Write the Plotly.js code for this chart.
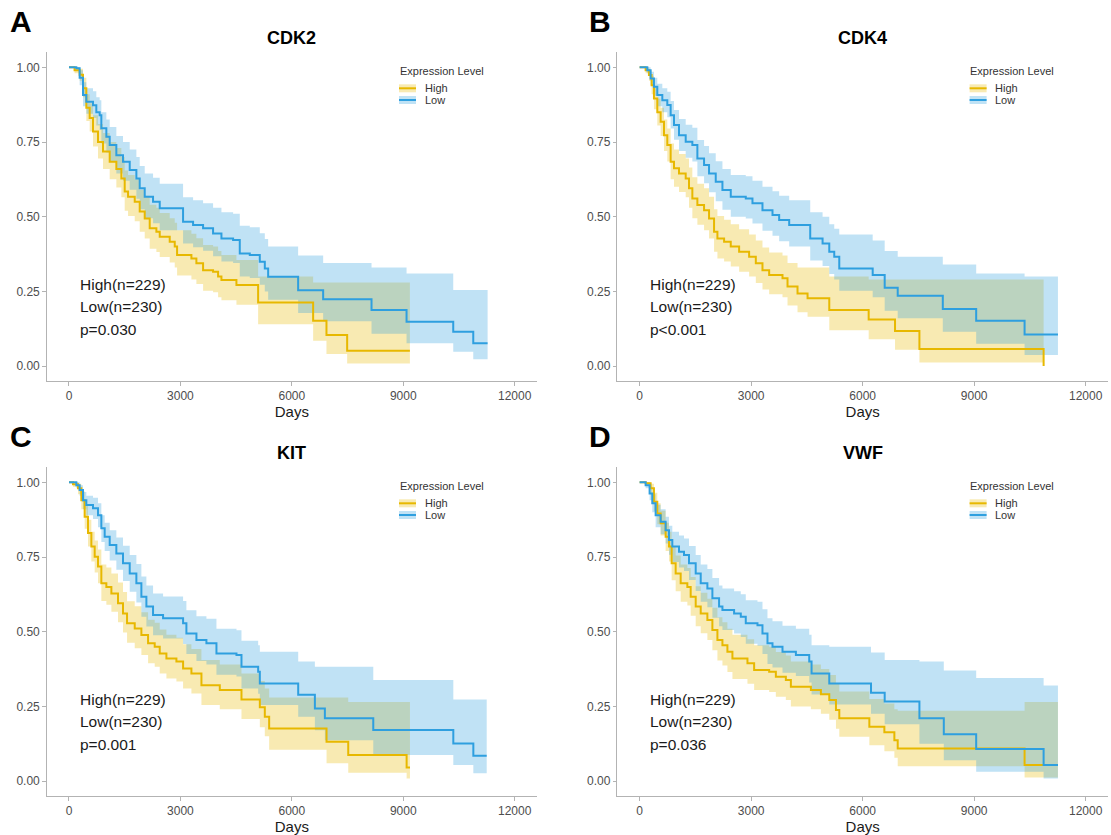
<!DOCTYPE html>
<html><head><meta charset="utf-8">
<script src="https://cdn.plot.ly/plotly-3.0.1.min.js"></script>
<style>html,body{margin:0;padding:0;background:#fff}#chart{width:1111px;height:835px}</style>
</head><body><div id="chart"></div>
<script>
// ---------- data ----------
const genes = ["CDK2", "CDK4", "KIT", "VWF"];
const panelLetters = ["A", "B", "C", "D"];
const groupNames = ["High", "Low"];
const groupN = [229, 230];
const pLabels = ["p=0.030", "p<0.001", "p=0.001", "p=0.036"];
const xTickVals = [0, 3000, 6000, 9000, 12000];
const yTickVals = [0, 0.25, 0.5, 0.75, 1];
const legendTitle = "Expression Level";
const xTitle = "Days";

// Panel A: CDK2
const days_A_high = [0,150,287,377,467,557,647,781,916,1096,1275,1410,1500,1590,1770,1904,2039,2173,2353,2443,2712,2847,2910,3296,3430,3610,3879,4014,4104,4508,5092,6573,6932,7489,9178];
const surv_A_high = [1.0,0.99,0.975,0.93,0.865,0.83,0.785,0.75,0.718,0.684,0.66,0.628,0.584,0.567,0.55,0.517,0.494,0.461,0.45,0.433,0.416,0.40,0.372,0.36,0.344,0.321,0.316,0.30,0.288,0.271,0.213,0.152,0.104,0.051,0.051];
const lower_A_high = [1.0,0.98,0.955,0.90,0.82,0.785,0.735,0.695,0.66,0.625,0.598,0.565,0.52,0.502,0.485,0.45,0.427,0.393,0.382,0.365,0.347,0.33,0.303,0.29,0.275,0.252,0.247,0.23,0.22,0.205,0.14,0.085,0.04,0.009,0.009];
const upper_A_high = [1.0,1.0,0.995,0.965,0.91,0.88,0.84,0.81,0.78,0.75,0.73,0.70,0.655,0.64,0.625,0.59,0.57,0.54,0.53,0.512,0.495,0.48,0.455,0.443,0.428,0.405,0.40,0.385,0.372,0.355,0.30,0.28,0.28,0.28,0.28];
const days_A_low = [0,198,287,377,467,647,736,826,871,1006,1096,1275,1455,1635,1814,1904,2039,2263,2443,3071,3341,3610,3879,4104,4418,4598,4867,5137,5272,5362,6169,6843,8145,9088,10345,10884,11270];
const surv_A_low = [1.0,0.997,0.965,0.907,0.885,0.873,0.85,0.84,0.796,0.768,0.74,0.706,0.684,0.656,0.628,0.595,0.567,0.55,0.528,0.483,0.472,0.461,0.444,0.427,0.422,0.377,0.372,0.349,0.327,0.299,0.254,0.224,0.188,0.148,0.115,0.076,0.076];
const lower_A_low = [1.0,0.99,0.94,0.87,0.845,0.83,0.805,0.79,0.745,0.715,0.685,0.645,0.62,0.59,0.56,0.525,0.495,0.478,0.455,0.41,0.398,0.386,0.368,0.35,0.345,0.30,0.295,0.272,0.25,0.222,0.178,0.15,0.108,0.076,0.048,0.023,0.023];
const upper_A_low = [1.0,1.0,0.99,0.95,0.93,0.92,0.90,0.89,0.85,0.825,0.80,0.77,0.75,0.725,0.70,0.67,0.645,0.63,0.61,0.565,0.555,0.545,0.53,0.515,0.51,0.47,0.465,0.445,0.425,0.40,0.37,0.345,0.33,0.31,0.255,0.255,0.255];

// Panel B: CDK4
const days_B_high = [0,162,251,323,386,476,566,656,745,835,925,1060,1240,1329,1419,1554,1734,1868,2003,2093,2273,2452,2677,2946,3126,3305,3485,3844,3979,4248,4518,5102,6162,6871,7527,10868];
const surv_B_high = [1,0.99,0.974,0.94,0.896,0.85,0.818,0.773,0.74,0.684,0.662,0.645,0.628,0.595,0.561,0.539,0.522,0.494,0.45,0.427,0.416,0.40,0.383,0.366,0.344,0.321,0.305,0.294,0.266,0.243,0.227,0.1875,0.156,0.117,0.057,0.0];
const lower_B_high = [1,0.98,0.955,0.91,0.86,0.805,0.77,0.72,0.685,0.625,0.60,0.583,0.565,0.53,0.495,0.473,0.455,0.427,0.383,0.36,0.35,0.333,0.316,0.30,0.278,0.256,0.24,0.23,0.203,0.18,0.165,0.12,0.09,0.055,0.012,0.012];
const upper_B_high = [1,1.0,0.99,0.97,0.935,0.895,0.865,0.825,0.795,0.745,0.725,0.71,0.695,0.665,0.632,0.61,0.595,0.567,0.525,0.502,0.49,0.475,0.458,0.44,0.42,0.397,0.38,0.37,0.345,0.33,0.33,0.30,0.29,0.29,0.29,0.29];
const days_B_low = [0,207,296,386,476,611,745,835,925,1060,1240,1419,1554,1734,1868,2048,2228,2452,2856,3036,3305,3575,3754,4024,4590,4922,5102,5236,5371,6270,6593,6943,8156,9054,10356,11254];
const surv_B_low = [1,0.99,0.963,0.935,0.907,0.89,0.874,0.84,0.807,0.773,0.751,0.74,0.695,0.673,0.645,0.617,0.589,0.567,0.561,0.545,0.522,0.506,0.489,0.472,0.427,0.41,0.383,0.366,0.327,0.305,0.262,0.235,0.191,0.152,0.106,0.106];
const lower_B_low = [1,0.98,0.94,0.905,0.87,0.85,0.833,0.795,0.758,0.72,0.697,0.685,0.635,0.612,0.582,0.552,0.523,0.50,0.494,0.477,0.453,0.436,0.418,0.40,0.353,0.335,0.308,0.29,0.252,0.23,0.185,0.16,0.115,0.075,0.037,0.037];
const upper_B_low = [1,1.0,0.985,0.965,0.945,0.93,0.918,0.887,0.857,0.827,0.808,0.798,0.757,0.737,0.712,0.686,0.66,0.64,0.635,0.62,0.60,0.585,0.57,0.555,0.515,0.50,0.475,0.46,0.44,0.42,0.385,0.366,0.34,0.31,0.30,0.30];

// Panel C: KIT
const days_C_high = [0,108,243,332,422,512,602,692,781,871,1006,1141,1320,1455,1563,1770,1949,2129,2308,2443,2623,2892,3072,3296,3566,4060,4644,5138,5272,5389,6934,7518,9090,9180];
const surv_C_high = [1,0.994,0.98,0.94,0.885,0.83,0.785,0.751,0.718,0.662,0.65,0.628,0.595,0.561,0.528,0.511,0.489,0.461,0.45,0.427,0.41,0.40,0.377,0.36,0.321,0.305,0.273,0.247,0.215,0.176,0.132,0.087,0.045,0.045];
const lower_C_high = [1,0.985,0.96,0.91,0.845,0.785,0.735,0.698,0.662,0.603,0.59,0.567,0.532,0.497,0.463,0.445,0.422,0.394,0.383,0.36,0.343,0.333,0.31,0.293,0.255,0.24,0.208,0.18,0.15,0.105,0.06,0.028,0.009,0.009];
const upper_C_high = [1,1.0,0.995,0.97,0.925,0.875,0.835,0.805,0.775,0.725,0.715,0.695,0.665,0.633,0.602,0.585,0.565,0.54,0.53,0.507,0.49,0.48,0.458,0.442,0.405,0.39,0.36,0.335,0.31,0.28,0.28,0.265,0.265,0.265];
const days_C_low = [0,198,287,377,467,647,781,871,961,1096,1275,1455,1635,1814,1949,2084,2263,2533,3072,3161,3431,3700,3970,4509,4644,5093,5138,6171,6620,6889,8192,10347,10886,11246];
const surv_C_low = [1,0.99,0.974,0.94,0.924,0.913,0.89,0.846,0.818,0.79,0.762,0.729,0.695,0.662,0.617,0.584,0.556,0.545,0.528,0.494,0.472,0.461,0.427,0.422,0.383,0.366,0.327,0.289,0.243,0.21,0.171,0.126,0.085,0.085];
const lower_C_low = [1,0.98,0.955,0.91,0.89,0.877,0.85,0.80,0.77,0.738,0.707,0.67,0.634,0.598,0.55,0.517,0.488,0.477,0.459,0.425,0.402,0.39,0.356,0.35,0.31,0.292,0.255,0.215,0.17,0.137,0.087,0.054,0.026,0.026];
const upper_C_low = [1,1.0,0.99,0.968,0.955,0.948,0.93,0.89,0.865,0.84,0.815,0.788,0.757,0.727,0.685,0.655,0.628,0.618,0.603,0.572,0.552,0.543,0.51,0.505,0.47,0.455,0.433,0.40,0.383,0.383,0.338,0.273,0.273,0.273];

// Panel D: VWF
const days_D_high = [0,162,296,386,476,566,700,790,862,970,1105,1284,1374,1509,1644,1823,1958,2093,2228,2362,2497,2901,3081,3485,3665,3934,4069,4608,4877,5102,5282,5372,6180,6584,6853,6943,10356,11254];
const surv_D_high = [1,0.997,0.98,0.935,0.896,0.863,0.818,0.785,0.729,0.695,0.662,0.65,0.617,0.584,0.561,0.539,0.506,0.472,0.455,0.433,0.41,0.394,0.372,0.366,0.349,0.338,0.316,0.305,0.291,0.271,0.238,0.21,0.182,0.163,0.137,0.109,0.054,0.054];
const lower_D_high = [1,0.99,0.96,0.905,0.86,0.822,0.77,0.735,0.672,0.635,0.60,0.588,0.553,0.518,0.495,0.472,0.438,0.404,0.387,0.365,0.342,0.326,0.305,0.298,0.282,0.271,0.25,0.24,0.225,0.205,0.175,0.148,0.12,0.10,0.078,0.05,0.012,0.012];
const upper_D_high = [1,1.0,0.995,0.965,0.93,0.905,0.865,0.835,0.785,0.755,0.725,0.713,0.683,0.652,0.63,0.61,0.58,0.548,0.532,0.51,0.49,0.475,0.455,0.45,0.432,0.42,0.40,0.39,0.375,0.355,0.325,0.30,0.275,0.26,0.24,0.235,0.265,0.265];
const days_D_low = [0,162,269,341,431,566,700,790,880,1060,1195,1329,1509,1644,1823,1958,2138,2228,2542,2722,2856,3171,3305,3440,3575,3844,4204,4563,4626,5102,6225,6593,7527,8183,9054,10868,11254];
const surv_D_low = [1,0.99,0.963,0.93,0.89,0.868,0.84,0.807,0.785,0.768,0.757,0.729,0.695,0.662,0.645,0.612,0.584,0.573,0.561,0.55,0.528,0.522,0.494,0.461,0.45,0.433,0.422,0.40,0.36,0.327,0.296,0.266,0.21,0.157,0.107,0.054,0.054];
const lower_D_low = [1,0.98,0.94,0.90,0.85,0.826,0.795,0.758,0.733,0.715,0.703,0.673,0.636,0.60,0.582,0.547,0.518,0.506,0.494,0.482,0.46,0.453,0.425,0.392,0.38,0.363,0.352,0.33,0.29,0.256,0.225,0.19,0.125,0.07,0.031,0.009,0.009];
const upper_D_low = [1,1.0,0.985,0.96,0.925,0.91,0.885,0.855,0.835,0.822,0.812,0.787,0.757,0.725,0.71,0.68,0.655,0.645,0.635,0.625,0.605,0.60,0.575,0.545,0.535,0.52,0.51,0.49,0.455,0.45,0.43,0.405,0.40,0.37,0.345,0.32,0.32];

// ---------- styling / layout ----------
const W = 1111, H = 835;
const FONT = "'Liberation Sans', Arial, Helvetica, sans-serif";
const lineColors = ["#E7B800", "#2E9FDF"];
const bandColors = ["rgba(231,184,0,0.3)", "rgba(46,159,223,0.3)"];
const AXC = "#b3b3b3";
const colLeft = [46.7, 617.3], colRight = [537, 1108];
const rowTop = [52.4, 467.4], rowBottom = [381, 796];
const dxCol = 570.6, dyRow = 415;

const series = [
  [[days_A_high, surv_A_high, lower_A_high, upper_A_high], [days_A_low, surv_A_low, lower_A_low, upper_A_low]],
  [[days_B_high, surv_B_high, lower_B_high, upper_B_high], [days_B_low, surv_B_low, lower_B_low, upper_B_low]],
  [[days_C_high, surv_C_high, lower_C_high, upper_C_high], [days_C_low, surv_C_low, lower_C_low, upper_C_low]],
  [[days_D_high, surv_D_high, lower_D_high, upper_D_high], [days_D_low, surv_D_low, lower_D_low, upper_D_low]]
];

const px = v => v / W;
const py = v => 1 - v / H;

const traces = [];
const layout = {
  width: W, height: H,
  margin: {l: 0, r: 0, t: 0, b: 0},
  paper_bgcolor: "#ffffff", plot_bgcolor: "#ffffff",
  showlegend: false,
  font: {family: FONT, color: "#222"},
  annotations: [], shapes: []
};

series.forEach((groups, i) => {
  const col = i % 2, row = Math.floor(i / 2);
  const sfx = i === 0 ? "" : String(i + 1);
  const xa = "x" + sfx, ya = "y" + sfx;
  const dx = col * dxCol, dy = row * dyRow;

  layout["xaxis" + sfx] = {
    domain: [px(colLeft[col]), px(colRight[col])], anchor: ya,
    range: [-600, 12600], tickvals: xTickVals, ticktext: xTickVals.map(String),
    showline: true, linecolor: AXC, linewidth: 1, mirror: false,
    ticks: "outside", ticklen: 3.5, tickwidth: 1, tickcolor: AXC,
    tickfont: {size: 12, color: "#4d4d4d", family: FONT},
    showgrid: false, zeroline: false, fixedrange: true,
    title: {text: xTitle, font: {size: 15, color: "#1a1a1a", family: FONT}, standoff: 2}
  };
  layout["yaxis" + sfx] = {
    domain: [py(rowBottom[row]), py(rowTop[row])], anchor: xa,
    range: [-0.05, 1.05], tickvals: yTickVals, tickformat: ".2f",
    showline: true, linecolor: AXC, linewidth: 1, mirror: false,
    ticks: "outside", ticklen: 3.5, tickwidth: 1, tickcolor: AXC,
    tickfont: {size: 12, color: "#4d4d4d", family: FONT},
    showgrid: false, zeroline: false, fixedrange: true
  };

  // confidence bands
  groups.forEach((g, k) => {
    traces.push({type: "scatter", mode: "lines", x: g[0], y: g[2], xaxis: xa, yaxis: ya,
      line: {shape: "hv", width: 0, color: "rgba(0,0,0,0)"}, hoverinfo: "skip", showlegend: false});
    traces.push({type: "scatter", mode: "lines", x: g[0], y: g[3], xaxis: xa, yaxis: ya,
      fill: "tonexty", fillcolor: bandColors[k],
      line: {shape: "hv", width: 0, color: "rgba(0,0,0,0)"}, hoverinfo: "skip", showlegend: false});
  });
  // survival curves
  groups.forEach((g, k) => {
    traces.push({type: "scatter", mode: "lines", name: groupNames[k], x: g[0], y: g[1], xaxis: xa, yaxis: ya,
      line: {shape: "hv", width: 2, color: lineColors[k]}, showlegend: false});
  });

  // panel letter
  layout.annotations.push({xref: "paper", yref: "paper", x: px(21 + col * 579), y: py(21 + dy),
    text: panelLetters[i], showarrow: false, xanchor: "center", yanchor: "middle",
    font: {size: 30, color: "#000", family: FONT, weight: "bold"}});
  // gene title
  layout.annotations.push({xref: "paper", yref: "paper", x: px((colLeft[col] + colRight[col]) / 2), y: py(38 + dy),
    text: genes[i], showarrow: false, xanchor: "center", yanchor: "middle",
    font: {size: 18, color: "#000", family: FONT, weight: "bold"}});
  // stats text
  const statLines = [groupNames[0] + "(n=" + groupN[0] + ")", groupNames[1] + "(n=" + groupN[1] + ")", pLabels[i]];
  statLines.forEach((t, j) => {
    layout.annotations.push({xref: "paper", yref: "paper", x: px(77.7 + dx), y: py(284 + j * 22.6 + dy),
      text: t, showarrow: false, xanchor: "left", yanchor: "middle",
      font: {size: 15.5, color: "#1a1a1a", family: FONT}});
  });
  // legend
  layout.annotations.push({xref: "paper", yref: "paper", x: px(397.5 + dx), y: py(71 + dy),
    text: legendTitle, showarrow: false, xanchor: "left", yanchor: "middle",
    font: {size: 11, color: "#333", family: FONT}});
  groupNames.forEach((nm, k) => {
    const cy = 88.3 + k * 11.7 + dy;
    layout.shapes.push({type: "rect", xref: "paper", yref: "paper",
      x0: px(399 + dx), x1: px(416 + dx), y0: py(cy + 4), y1: py(cy - 4),
      fillcolor: bandColors[k], line: {width: 0}, layer: "above"});
    layout.shapes.push({type: "line", xref: "paper", yref: "paper",
      x0: px(399 + dx), x1: px(416 + dx), y0: py(cy), y1: py(cy),
      line: {color: lineColors[k], width: 2}, layer: "above"});
    layout.annotations.push({xref: "paper", yref: "paper", x: px(422.5 + dx), y: py(cy),
      text: nm, showarrow: false, xanchor: "left", yanchor: "middle",
      font: {size: 11, color: "#333", family: FONT}});
  });
});

Plotly.newPlot("chart", traces, layout, {displayModeBar: false, staticPlot: true});
</script>
</body></html>
